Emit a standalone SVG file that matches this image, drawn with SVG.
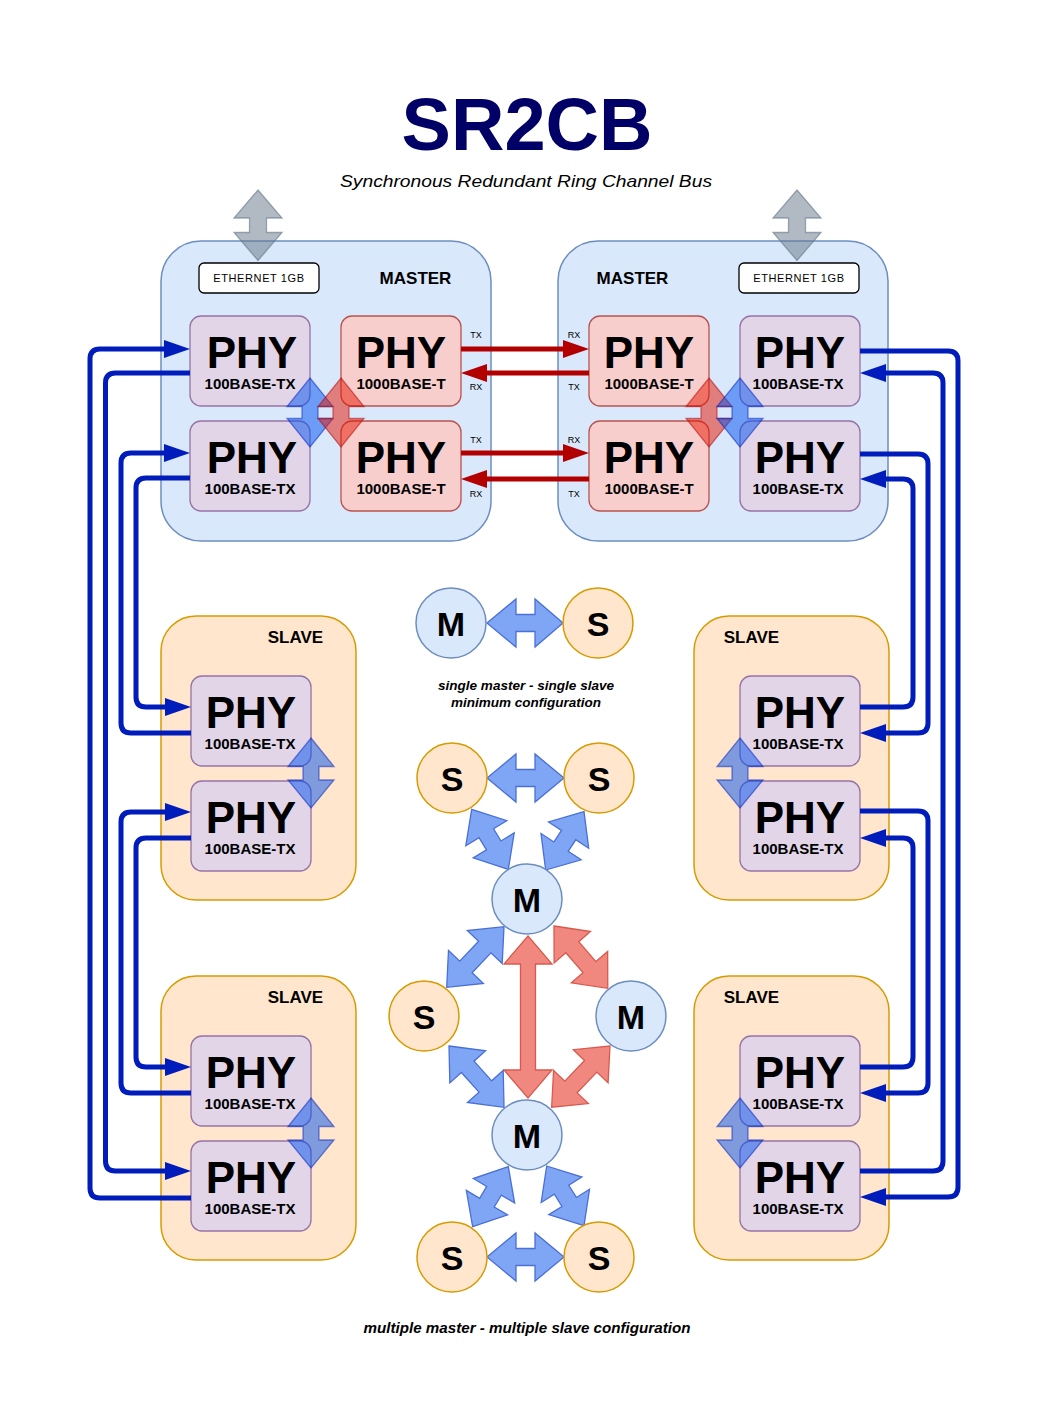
<svg xmlns="http://www.w3.org/2000/svg" width="1049" height="1421" viewBox="0 0 1049 1421">
<style>
text{font-family:"Liberation Sans",Arial,sans-serif;text-anchor:middle;fill:#000}
.master{fill:#dae8fc;stroke:#6c8ebf;stroke-width:1.5}
.slave{fill:#ffe6cc;stroke:#d79b00;stroke-width:1.5}
.phyb{fill:#e1d5e7;stroke:#9673a6;stroke-width:1.3}
.phyr{fill:#f8cecc;stroke:#b85450;stroke-width:1.3}
.eth{fill:#fff;stroke:#000;stroke-width:1.3}
.big{font-size:44px;font-weight:bold}
.sub{font-size:15px;font-weight:bold}
.hdr{font-size:17px;font-weight:bold}
.ethT{font-size:11px;letter-spacing:0.6px}
.tiny{font-size:9px}
.cM{fill:#dae8fc;stroke:#6c8ebf;stroke-width:1.5}
.cS{fill:#ffe6cc;stroke:#d79b00;stroke-width:1.5}
.cT{font-size:34px;font-weight:bold}
.cap{font-size:13px;font-style:italic;font-weight:bold}
.blueA{fill:#7ea6f4;stroke:#4a6fd6;stroke-width:1.3}
.redA{fill:#f08880;stroke:#d9594c;stroke-width:1.3}
.bluePhy{fill:#0050ef;fill-opacity:0.5;stroke:#001dbc;stroke-opacity:0.5;stroke-width:1.3}
.redPhy{fill:#e51400;fill-opacity:0.5;stroke:#b20000;stroke-opacity:0.5;stroke-width:1.3}
.greyA{fill:#647687;fill-opacity:0.5;stroke:#647687;stroke-opacity:0.6;stroke-width:1.3}
.wb{fill:none;stroke:#001dbc;stroke-width:5}
.wr{fill:none;stroke:#b20000;stroke-width:5}
</style>
<defs>
<marker id="ab" markerUnits="userSpaceOnUse" viewBox="0 0 26 18" refX="0" refY="9" markerWidth="26" markerHeight="18" orient="auto"><path d="M0,0 L26,9 L0,18 Z" fill="#001dbc"/></marker>
<marker id="ar" markerUnits="userSpaceOnUse" viewBox="0 0 26 18" refX="0" refY="9" markerWidth="26" markerHeight="18" orient="auto"><path d="M0,0 L26,9 L0,18 Z" fill="#b20000"/></marker>
</defs>

<g id="title">
<text x="527" y="150" style="font-size:74px;font-weight:bold;fill:#000066">SR2CB</text>
<text x="526" y="187" style="font-size:17px;font-style:italic" textLength="372" lengthAdjust="spacingAndGlyphs">Synchronous Redundant Ring Channel Bus</text>
</g>

<!-- Master left -->
<g id="master-left">
<rect class="master" x="161" y="241" width="330" height="300" rx="40"/>
<text class="hdr" x="415.5" y="284">MASTER</text>
<g id="eth-left"><rect class="eth" x="199" y="263" width="120" height="30" rx="5"/><text class="ethT" x="259" y="282">ETHERNET 1GB</text></g>
<g id="phy-ml1"><rect class="phyb" x="190" y="316" width="120" height="90" rx="11"/><text class="big" x="252" y="368">PHY</text><text class="sub" x="250" y="388.5">100BASE-TX</text></g>
<g id="phy-ml2"><rect class="phyb" x="190" y="421" width="120" height="90" rx="11"/><text class="big" x="252" y="473">PHY</text><text class="sub" x="250" y="493.5">100BASE-TX</text></g>
<g id="phy-ml3"><rect class="phyr" x="341" y="316" width="120" height="90" rx="11"/><text class="big" x="401" y="368">PHY</text><text class="sub" x="401" y="388.5">1000BASE-T</text></g>
<g id="phy-ml4"><rect class="phyr" x="341" y="421" width="120" height="90" rx="11"/><text class="big" x="401" y="473">PHY</text><text class="sub" x="401" y="493.5">1000BASE-T</text></g>
<path class="bluePhy" transform="translate(310,378) rotate(90)" d="M0,0 L28.5,-23 L28.5,-8 L40.5,-8 L40.5,-23 L69,0 L40.5,23 L40.5,8 L28.5,8 L28.5,23 Z"/>
<path class="redPhy" transform="translate(341,378) rotate(90)" d="M0,0 L28.5,-23 L28.5,-8 L40.5,-8 L40.5,-23 L69,0 L40.5,23 L40.5,8 L28.5,8 L28.5,23 Z"/>
<path class="greyA" transform="translate(258,190) rotate(90)" d="M0,0 L28,-24 L28,-8.5 L42.5,-8.5 L42.5,-24 L70.5,0 L42.5,24 L42.5,8.5 L28,8.5 L28,24 Z"/>
</g>

<!-- Master right -->
<g id="master-right">
<rect class="master" x="558" y="241" width="330" height="300" rx="40"/>
<text class="hdr" x="632.5" y="284">MASTER</text>
<g id="eth-right"><rect class="eth" x="739" y="263" width="120" height="30" rx="5"/><text class="ethT" x="799" y="282">ETHERNET 1GB</text></g>
<g id="phy-mr1"><rect class="phyr" x="589" y="316" width="120" height="90" rx="11"/><text class="big" x="649" y="368">PHY</text><text class="sub" x="649" y="388.5">1000BASE-T</text></g>
<g id="phy-mr2"><rect class="phyr" x="589" y="421" width="120" height="90" rx="11"/><text class="big" x="649" y="473">PHY</text><text class="sub" x="649" y="493.5">1000BASE-T</text></g>
<g id="phy-mr3"><rect class="phyb" x="740" y="316" width="120" height="90" rx="11"/><text class="big" x="800" y="368">PHY</text><text class="sub" x="798" y="388.5">100BASE-TX</text></g>
<g id="phy-mr4"><rect class="phyb" x="740" y="421" width="120" height="90" rx="11"/><text class="big" x="800" y="473">PHY</text><text class="sub" x="798" y="493.5">100BASE-TX</text></g>
<path class="redPhy" transform="translate(709,378) rotate(90)" d="M0,0 L28.5,-23 L28.5,-8 L40.5,-8 L40.5,-23 L69,0 L40.5,23 L40.5,8 L28.5,8 L28.5,23 Z"/>
<path class="bluePhy" transform="translate(740,378) rotate(90)" d="M0,0 L28.5,-23 L28.5,-8 L40.5,-8 L40.5,-23 L69,0 L40.5,23 L40.5,8 L28.5,8 L28.5,23 Z"/>
<path class="greyA" transform="translate(797,190) rotate(90)" d="M0,0 L28,-24 L28,-8.5 L42.5,-8.5 L42.5,-24 L70.5,0 L42.5,24 L42.5,8.5 L28,8.5 L28,24 Z"/>
</g>

<!-- Slaves left -->
<g id="slave-l1">
<rect class="slave" x="161" y="616" width="195" height="284" rx="35"/>
<text class="hdr" x="295.5" y="643">SLAVE</text>
<g id="phy-sl1a"><rect class="phyb" x="191" y="676" width="120" height="90" rx="11"/><text class="big" x="251" y="728">PHY</text><text class="sub" x="250" y="748.5">100BASE-TX</text></g>
<g id="phy-sl1b"><rect class="phyb" x="191" y="781" width="120" height="90" rx="11"/><text class="big" x="251" y="833">PHY</text><text class="sub" x="250" y="853.5">100BASE-TX</text></g>
<path class="bluePhy" transform="translate(311,738) rotate(90)" d="M0,0 L28.5,-23 L28.5,-8 L42,-8 L42,-23 L70,0 L42,23 L42,8 L28.5,8 L28.5,23 Z"/>
</g>
<g id="slave-l2">
<rect class="slave" x="161" y="976" width="195" height="284" rx="35"/>
<text class="hdr" x="295.5" y="1003">SLAVE</text>
<g id="phy-sl2a"><rect class="phyb" x="191" y="1036" width="120" height="90" rx="11"/><text class="big" x="251" y="1088">PHY</text><text class="sub" x="250" y="1108.5">100BASE-TX</text></g>
<g id="phy-sl2b"><rect class="phyb" x="191" y="1141" width="120" height="90" rx="11"/><text class="big" x="251" y="1193">PHY</text><text class="sub" x="250" y="1213.5">100BASE-TX</text></g>
<path class="bluePhy" transform="translate(311,1098) rotate(90)" d="M0,0 L28.5,-23 L28.5,-8 L42,-8 L42,-23 L70,0 L42,23 L42,8 L28.5,8 L28.5,23 Z"/>
</g>

<!-- Slaves right -->
<g id="slave-r1">
<rect class="slave" x="694" y="616" width="195" height="284" rx="35"/>
<text class="hdr" x="751.5" y="643">SLAVE</text>
<g id="phy-sr1a"><rect class="phyb" x="740" y="676" width="120" height="90" rx="11"/><text class="big" x="800" y="728">PHY</text><text class="sub" x="798" y="748.5">100BASE-TX</text></g>
<g id="phy-sr1b"><rect class="phyb" x="740" y="781" width="120" height="90" rx="11"/><text class="big" x="800" y="833">PHY</text><text class="sub" x="798" y="853.5">100BASE-TX</text></g>
<path class="bluePhy" transform="translate(740,738) rotate(90)" d="M0,0 L28.5,-23 L28.5,-8 L42,-8 L42,-23 L70,0 L42,23 L42,8 L28.5,8 L28.5,23 Z"/>
</g>
<g id="slave-r2">
<rect class="slave" x="694" y="976" width="195" height="284" rx="35"/>
<text class="hdr" x="751.5" y="1003">SLAVE</text>
<g id="phy-sr2a"><rect class="phyb" x="740" y="1036" width="120" height="90" rx="11"/><text class="big" x="800" y="1088">PHY</text><text class="sub" x="798" y="1108.5">100BASE-TX</text></g>
<g id="phy-sr2b"><rect class="phyb" x="740" y="1141" width="120" height="90" rx="11"/><text class="big" x="800" y="1193">PHY</text><text class="sub" x="798" y="1213.5">100BASE-TX</text></g>
<path class="bluePhy" transform="translate(740,1098) rotate(90)" d="M0,0 L28.5,-23 L28.5,-8 L42,-8 L42,-23 L70,0 L42,23 L42,8 L28.5,8 L28.5,23 Z"/>
</g>

<!-- Connectors -->
<g id="connectors">
<path class="wb" marker-end="url(#ab)" d="M191,1198 H100 Q90,1198 90,1188 V359 Q90,349 100,349 H164"/>
<path class="wb" marker-end="url(#ab)" d="M190,373 H115.5 Q105.5,373 105.5,383 V1161 Q105.5,1171 115.5,1171 H165"/>
<path class="wb" marker-end="url(#ab)" d="M191,733 H131 Q121,733 121,723 V463 Q121,453 131,453 H164"/>
<path class="wb" marker-end="url(#ab)" d="M190,478 H146 Q136,478 136,488 V697 Q136,707 146,707 H165"/>
<path class="wb" marker-end="url(#ab)" d="M191,1093 H131 Q121,1093 121,1083 V822 Q121,812 131,812 H165"/>
<path class="wb" marker-end="url(#ab)" d="M191,838 H146 Q136,838 136,848 V1057 Q136,1067 146,1067 H165"/>

<path class="wb" marker-end="url(#ab)" d="M860,351 H948 Q958,351 958,361 V1187 Q958,1197 948,1197 H886"/>
<path class="wb" marker-end="url(#ab)" d="M860,1171 H933 Q943,1171 943,1161 V383 Q943,373 933,373 H886"/>
<path class="wb" marker-end="url(#ab)" d="M860,454 H918 Q928,454 928,464 V723 Q928,733 918,733 H886"/>
<path class="wb" marker-end="url(#ab)" d="M860,707 H903 Q913,707 913,697 V489 Q913,479 903,479 H886"/>
<path class="wb" marker-end="url(#ab)" d="M860,811 H918 Q928,811 928,821 V1083 Q928,1093 918,1093 H886"/>
<path class="wb" marker-end="url(#ab)" d="M860,1067 H903 Q913,1067 913,1057 V848 Q913,838 903,838 H886"/>

<path class="wr" marker-end="url(#ar)" d="M461,349 H563"/>
<path class="wr" marker-end="url(#ar)" d="M589,373 H487"/>
<path class="wr" marker-end="url(#ar)" d="M461,453 H563"/>
<path class="wr" marker-end="url(#ar)" d="M589,479 H487"/>
</g>

<g id="txrx-labels">
<text class="tiny" x="476" y="338">TX</text>
<text class="tiny" x="476" y="390">RX</text>
<text class="tiny" x="476" y="443">TX</text>
<text class="tiny" x="476" y="497">RX</text>
<text class="tiny" x="574" y="338">RX</text>
<text class="tiny" x="574" y="390">TX</text>
<text class="tiny" x="574" y="443">RX</text>
<text class="tiny" x="574" y="497">TX</text>
</g>

<!-- Single config -->
<g id="single-config">
<path class="blueA" transform="translate(487,623)" d="M0,0 L29,-24 L29,-8.5 L48,-8.5 L48,-24 L76,0 L48,24 L48,8.5 L29,8.5 L29,24 Z"/>
<g id="n-m0"><circle class="cM" cx="451" cy="623" r="35"/><text class="cT" x="451" y="636">M</text></g>
<g id="n-s0"><circle class="cS" cx="598" cy="623" r="35"/><text class="cT" x="598" y="636">S</text></g>
<text class="cap" x="526" y="690" textLength="176" lengthAdjust="spacingAndGlyphs">single master - single slave</text>
<text class="cap" x="526" y="707" textLength="150" lengthAdjust="spacingAndGlyphs">minimum configuration</text>
</g>

<!-- Multi config -->
<g id="multi-arrows">
<path class="blueA" transform="translate(487,778)" d="M0,0 L29,-24 L29,-8.5 L48,-8.5 L48,-24 L77,0 L48,24 L48,8.5 L29,8.5 L29,24 Z"/>
<path class="blueA" transform="translate(487,1257)" d="M0,0 L29,-24 L29,-8.5 L48,-8.5 L48,-24 L77,0 L48,24 L48,8.5 L29,8.5 L29,24 Z"/>
<path class="blueA" transform="translate(471.7,809.3) rotate(58.6)" d="M0,0 L28,-24 L28,-8.5 L42.3,-8.5 L42.3,-24 L70.3,0 L42.3,24 L42.3,8.5 L28,8.5 L28,24 Z"/>
<path class="blueA" transform="translate(584,811.7) rotate(123.3)" d="M0,0 L28,-24 L28,-8.5 L41.8,-8.5 L41.8,-24 L69.8,0 L41.8,24 L41.8,8.5 L28,8.5 L28,24 Z"/>
<path class="blueA" transform="translate(504,926.7) rotate(133.4)" d="M0,0 L28,-24 L28,-8.5 L55.4,-8.5 L55.4,-24 L83.4,0 L55.4,24 L55.4,8.5 L28,8.5 L28,24 Z"/>
<path class="redA" transform="translate(528,936) rotate(90)" d="M0,0 L28,-24 L28,-7.5 L134,-7.5 L134,-24 L162,0 L134,24 L134,7.5 L28,7.5 L28,24 Z"/>
<path class="redA" transform="translate(554,926) rotate(49.2)" d="M0,0 L28,-24 L28,-8.5 L54.3,-8.5 L54.3,-24 L82.3,0 L54.3,24 L54.3,8.5 L28,8.5 L28,24 Z"/>
<path class="blueA" transform="translate(449,1046) rotate(48.1)" d="M0,0 L28,-24 L28,-8.5 L54.4,-8.5 L54.4,-24 L82.4,0 L54.4,24 L54.4,8.5 L28,8.5 L28,24 Z"/>
<path class="redA" transform="translate(610,1046) rotate(133.6)" d="M0,0 L28,-24 L28,-8.5 L56.6,-8.5 L56.6,-24 L84.6,0 L56.6,24 L56.6,8.5 L28,8.5 L28,24 Z"/>
<path class="blueA" transform="translate(508.3,1166.7) rotate(120.7)" d="M0,0 L28,-24 L28,-8.5 L41.8,-8.5 L41.8,-24 L69.8,0 L41.8,24 L41.8,8.5 L28,8.5 L28,24 Z"/>
<path class="blueA" transform="translate(546.7,1166) rotate(58)" d="M0,0 L28,-24 L28,-8.5 L42.4,-8.5 L42.4,-24 L70.4,0 L42.4,24 L42.4,8.5 L28,8.5 L28,24 Z"/>
</g>
<g id="n-s1"><circle class="cS" cx="452" cy="778" r="35"/><text class="cT" x="452" y="791">S</text></g>
<g id="n-s2"><circle class="cS" cx="599" cy="778" r="35"/><text class="cT" x="599" y="791">S</text></g>
<g id="n-m1"><circle class="cM" cx="527" cy="899" r="35"/><text class="cT" x="527" y="912">M</text></g>
<g id="n-s3"><circle class="cS" cx="424" cy="1016" r="35"/><text class="cT" x="424" y="1029">S</text></g>
<g id="n-m2"><circle class="cM" cx="631" cy="1016" r="35"/><text class="cT" x="631" y="1029">M</text></g>
<g id="n-m3"><circle class="cM" cx="527" cy="1135" r="35"/><text class="cT" x="527" y="1148">M</text></g>
<g id="n-s4"><circle class="cS" cx="452" cy="1257" r="35"/><text class="cT" x="452" y="1270">S</text></g>
<g id="n-s5"><circle class="cS" cx="599" cy="1257" r="35"/><text class="cT" x="599" y="1270">S</text></g>
<text class="cap" x="527" y="1333" style="font-size:14px" textLength="327" lengthAdjust="spacingAndGlyphs">multiple master - multiple slave configuration</text>
</svg>
